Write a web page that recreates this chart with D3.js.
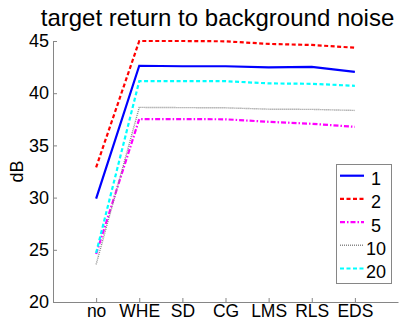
<!DOCTYPE html>
<html>
<head>
<meta charset="utf-8">
<script src="https://cdn.jsdelivr.net/npm/d3@7"></script>
<style>
  html, body { margin: 0; padding: 0; background: #fff; }
  svg { display: block; font-family: "Liberation Sans", Arial, sans-serif; }
</style>
</head>
<body>
<script>
// Equalisation methods along the x axis
const methods = ["no", "WHE", "SD", "CG", "LMS", "RLS", "EDS"];

// Target-return-to-background-noise ratio (dB) for each setting
const series1  = [29.9, 42.63, 42.58, 42.58, 42.47, 42.52, 42.05];
const series2  = [32.9, 45.0, 45.0, 44.97, 44.72, 44.62, 44.36];
const series5  = [24.6, 37.52, 37.52, 37.5, 37.26, 37.07, 36.78];
const series10 = [23.6, 38.64, 38.62, 38.6, 38.47, 38.45, 38.35];
const series20 = [24.7, 41.16, 41.16, 41.15, 40.94, 40.9, 40.71];

const seriesNames = ["1", "2", "5", "10", "20"];
const yTicks = [20, 25, 30, 35, 40, 45];

const W = 409, H = 322;
const margin = { left: 53, right: 11, top: 41, bottom: 20 };

const svg = d3.select("body").append("svg")
  .attr("width", W).attr("height", H);

const x = d3.scaleLinear().domain([0, methods.length + 1]).range([margin.left, W - margin.right]);
const y = d3.scaleLinear().domain([20, 45]).range([H - margin.bottom, margin.top]);

const styles = [
  { color: "#0000ff", width: 2.2, dash: null },
  { color: "#ff0000", width: 2.2, dash: "4,2.5" },
  { color: "#ff00ff", width: 2.2, dash: "5,2,1.5,2" },
  { color: "#888888", width: 1.4, dash: "1,1" },
  { color: "#00ffff", width: 2.2, dash: "4,2.5" }
];
const allSeries = [series1, series2, series5, series10, series20];

// Axes: ticks point inward, grey spines
const axisColor = "#868686";
const xAxis = d3.axisBottom(x)
  .tickValues(d3.range(1, methods.length + 1))
  .tickFormat(i => methods[i - 1])
  .tickSizeInner(-4).tickSizeOuter(0).tickPadding(3);
const gx = svg.append("g")
  .attr("transform", `translate(0,${H - margin.bottom})`)
  .call(xAxis);

const yAxis = d3.axisLeft(y)
  .tickValues(yTicks)
  .tickSizeInner(-4).tickSizeOuter(0).tickPadding(4);
const gy = svg.append("g")
  .attr("transform", `translate(${margin.left},0)`)
  .call(yAxis);

[gx, gy].forEach(g => {
  g.selectAll(".domain").attr("stroke", axisColor).attr("stroke-width", 1);
  g.selectAll(".tick line").attr("stroke", axisColor);
});
gx.selectAll(".tick text").attr("fill", "#000").style("font-size", "17.5px");
gy.selectAll(".tick text").attr("fill", "#000").style("font-size", "18px");

// Lines
const line = d3.line()
  .x((d, i) => x(i + 1))
  .y(d => y(d));

allSeries.forEach((s, k) => {
  svg.append("path")
    .datum(s)
    .attr("fill", "none")
    .attr("stroke", styles[k].color)
    .attr("stroke-width", styles[k].width)
    .attr("stroke-dasharray", styles[k].dash)
    .attr("stroke-linejoin", "miter")
    .attr("d", line);
});

// Title and y label
svg.append("text")
  .attr("x", 217.5)
  .attr("y", 26)
  .attr("text-anchor", "middle")
  .style("font-size", "24px")
  .text("target return to background noise");

svg.append("text")
  .attr("transform", `translate(23,${(margin.top + H - margin.bottom) / 2}) rotate(-90)`)
  .attr("text-anchor", "middle")
  .style("font-size", "18px")
  .text("dB");

// Legend
const lg = svg.append("g");
lg.append("rect")
  .attr("x", 336.5).attr("y", 164.5)
  .attr("width", 55).attr("height", 119)
  .attr("fill", "#fff").attr("stroke", axisColor);

seriesNames.forEach((name, k) => {
  const ly = 175.7 + k * 23.2;
  lg.append("line")
    .attr("x1", 340).attr("x2", 364)
    .attr("y1", ly).attr("y2", ly)
    .attr("stroke", styles[k].color)
    .attr("stroke-width", styles[k].width)
    .attr("stroke-dasharray", styles[k].dash);
  lg.append("text")
    .attr("x", 376).attr("y", ly + 9.5)
    .attr("text-anchor", "middle")
    .style("font-size", "18px")
    .text(name);
});
</script>
</body>
</html>
